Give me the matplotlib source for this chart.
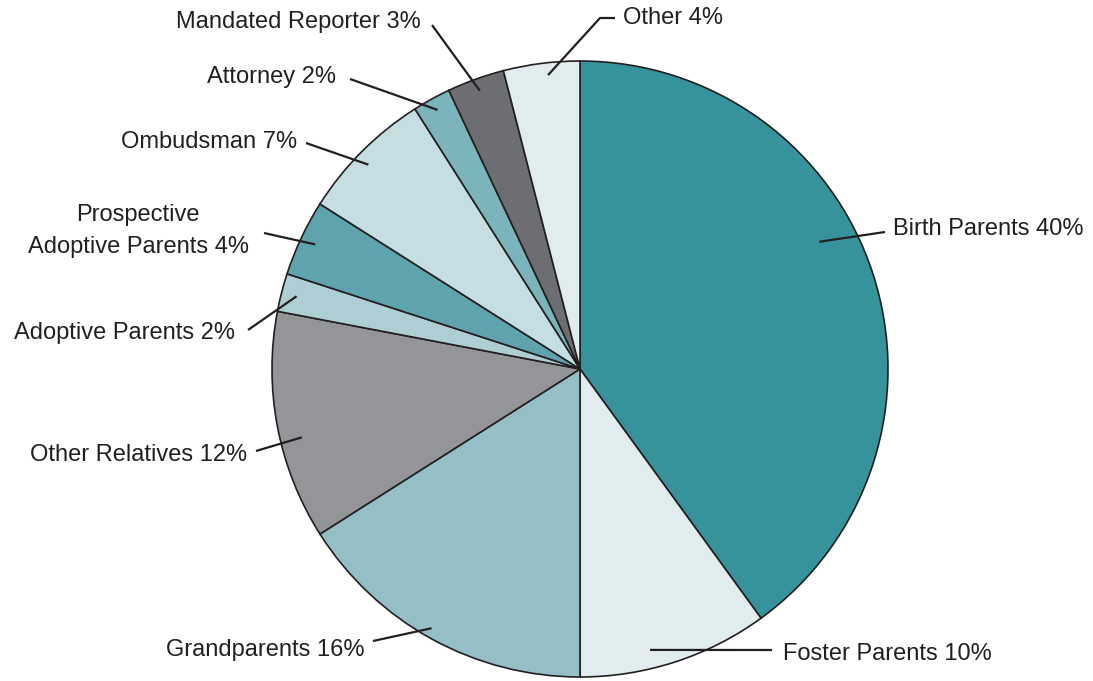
import numpy as np
import matplotlib
matplotlib.use("Agg")
import matplotlib.pyplot as plt

# data
labels = ["Birth Parents", "Foster Parents", "Grandparents", "Other Relatives",
          "Adoptive Parents", "Prospective\nAdoptive Parents", "Ombudsman",
          "Attorney", "Mandated Reporter", "Other"]
values = [40, 10, 16, 12, 2, 4, 7, 2, 3, 4]
colors = ["#37939B", "#E1ECEE", "#94BFC6", "#939598", "#ADCFD4",
          "#5EA3AD", "#C4DEE1", "#7BB4BA", "#6D6E72", "#E1ECEE"]

W, H = 1093, 681
CX, CY, R = 580, 369, 308   # pie centre / radius in pixels (y from top)

def px(x, y):
    """pixel coords (y from top) -> axes data coords (y up)"""
    return x, H - y

# label layout: text position, alignment, leader end point(s), anchor tweak
text_pos = [(893, 229), (783, 654), (364, 650), (247, 455), (235, 333),
            (138, 231), (297, 142), (336, 77), (421, 22), (623, 18)]
text_ha = ["left", "left", "right", "right", "right",
           "center", "right", "right", "right", "left"]
leader_end = [[(885, 232)], [(772, 650)], [(373, 641)], [(256, 451)],
              [(248, 330)], [(264, 233)], [(306, 143)], [(350, 79)],
              [(432, 25)], [(600, 18), (615, 18)]]
anchor_frac = [0.88, 0.94, 0.97, 0.93, 0.95, 0.95, 0.955, 0.96, 0.96, 0.96]
anchor_dtheta = [10, -4, -1, 3, 0, 0, 1, 0, 0, -1]

plt.rcParams['font.family'] = ['Liberation Sans Narrow', 'Liberation Sans', 'DejaVu Sans']

fig = plt.figure(figsize=(W / 100, H / 100), dpi=100)
ax = fig.add_axes([0, 0, 1, 1])

wedges, _ = ax.pie(values, colors=colors, startangle=90, counterclock=False,
                   center=px(CX, CY), radius=R, frame=True,
                   wedgeprops=dict(edgecolor="#231F20", linewidth=1.2))
ax.set_xlim(0, W)
ax.set_ylim(0, H)
ax.set_aspect("equal")
ax.axis("off")

for i, w in enumerate(wedges):
    ang = np.deg2rad((w.theta1 + w.theta2) / 2 + anchor_dtheta[i])
    ax0 = w.center[0] + anchor_frac[i] * R * np.cos(ang)
    ay0 = w.center[1] + anchor_frac[i] * R * np.sin(ang)
    pts = [(ax0, ay0)] + [px(*p) for p in leader_end[i]]
    xs, ys = zip(*pts)
    ax.plot(xs, ys, color="#231F20", lw=1.6, solid_capstyle="butt")
    tx, ty = px(*text_pos[i])
    ax.text(tx, ty, f"{labels[i]} {values[i]}%", ha=text_ha[i], va="center",
            multialignment="center", fontsize=17, color="#231F20",
            linespacing=1.6)

fig.savefig("out.png", dpi=100)
